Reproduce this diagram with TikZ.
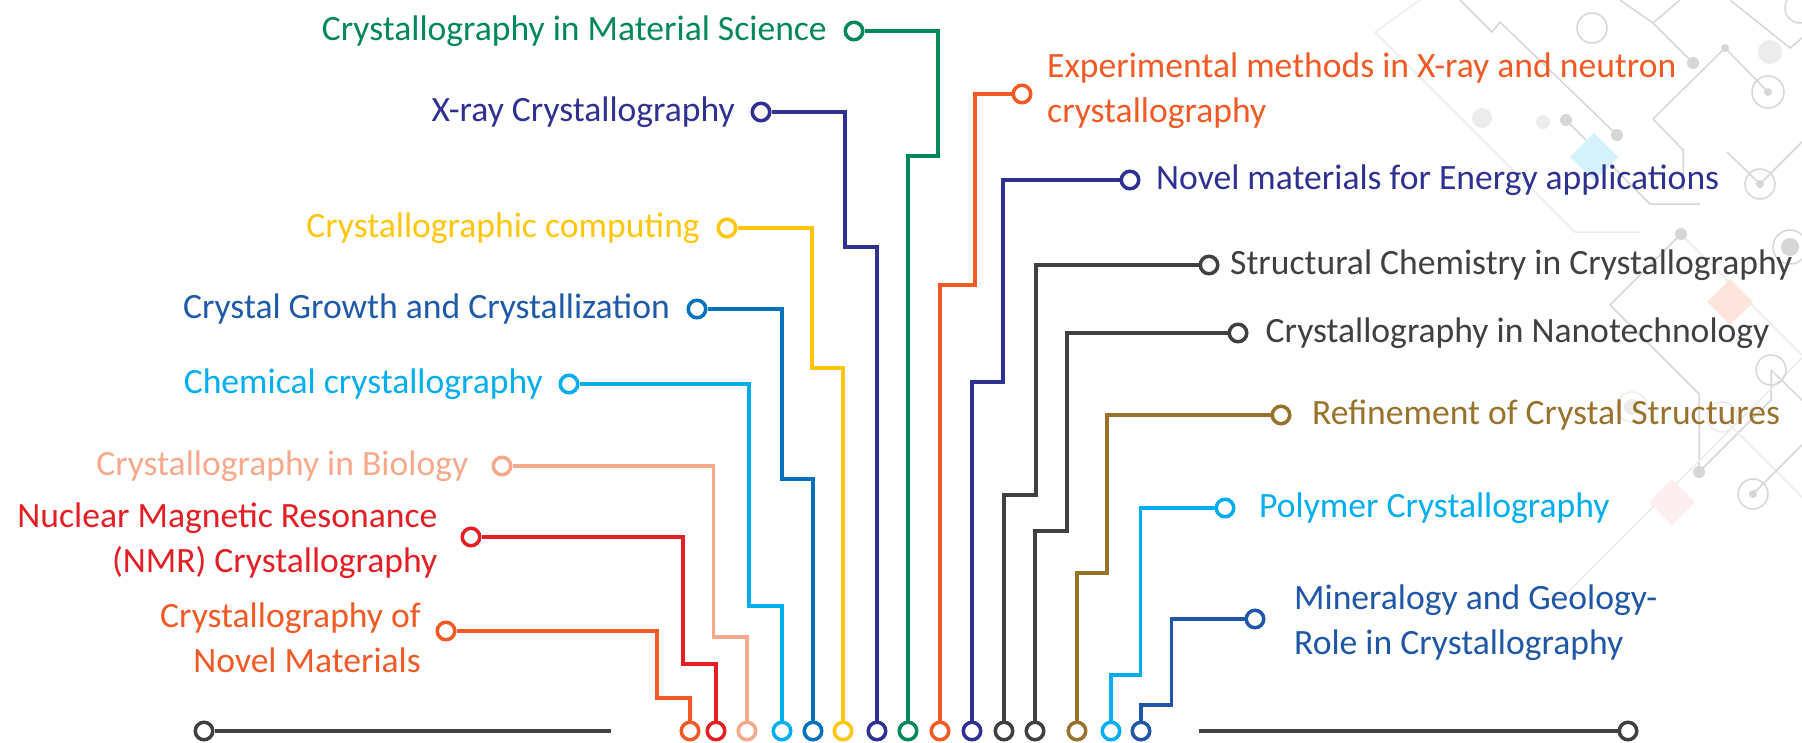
\documentclass[tikz,border=0pt]{standalone}
\usepackage{fontspec}
\setmainfont{Carlito}
\usetikzlibrary{positioning}

\definecolor{cgreen}{HTML}{00875A}
\definecolor{cindigo}{HTML}{2E3192}
\definecolor{cyellow}{HTML}{FFC60B}
\definecolor{cblue}{HTML}{0072BC}
\definecolor{cbluetext}{HTML}{1E5AA8}
\definecolor{ccyan}{HTML}{00AEEF}
\definecolor{cpeach}{HTML}{F7A98B}
\definecolor{cred}{HTML}{E31E24}
\definecolor{corange}{HTML}{F15A24}
\definecolor{cgray}{HTML}{404040}
\definecolor{cbrown}{HTML}{98712A}
\definecolor{cmineral}{HTML}{1F56A5}
\definecolor{decogray}{HTML}{D6D6D6}
\definecolor{decolight}{HTML}{ECECEC}

\begin{document}
\begin{tikzpicture}[x=1pt,y=-1pt,
	wire/.style={line width=3.5pt},
	ring/.style={circle,draw,line width=3.5pt,fill=white,inner sep=0pt,minimum size=17.5pt},
	lbl/.style={inner sep=0pt,font=\fontsize{35.6}{45}\selectfont},
	deco/.style={line width=1.5pt,draw=decogray},
	blob/.style={fill=decogray,draw=none}]
	\useasboundingbox (0,0) rectangle (1802,742);

	% Faint circuit pattern in the upper right
	\begin{scope}[deco]
		\draw[decolight] (1375,32) -- (1575,232) -- (1640,232);
		\draw[decolight] (1420,0) -- (1375,32);
		\draw (1460,0) -- (1492,32) -- (1500,22) -- (1617,135);
		\draw (1566,120) -- (1650,204) -- (1700,204);
		\draw (1620,0) -- (1653,23) -- (1693,63);
		\draw (1653,23) -- (1680,0);
		\draw (1653,119) -- (1725,48) -- (1768,92);
		\draw (1653,119) -- (1683,150) -- (1683,190);
		\draw (1727,152) -- (1760,184) -- (1802,142);
		\draw (1730,0) -- (1790,48) -- (1802,38);
		\draw (1681,234) -- (1610,305) -- (1699,394) -- (1699,472);
		\draw[decolight] (1681,234) -- (1802,355);
		\draw (1699,472) -- (1771,400) -- (1771,370);
		\draw (1771,370) -- (1802,400);
		\draw[decolight] (1722,417) -- (1802,497);
		\draw[decolight] (1560,600) -- (1802,358);
		\draw (1753,494) -- (1802,445);
		\draw (1592,28) circle[radius=15];
		\draw (1768,92) circle[radius=16];
		\draw (1760,184) circle[radius=15];
		\draw (1790,247) circle[radius=17];
		\draw (1800,8) circle[radius=15];
		\draw (1771,370) circle[radius=15];
		\draw[decolight] (1632,407) circle[radius=15];
		\draw[decolight] (1722,417) circle[radius=15];
		\draw (1753,494) circle[radius=15];
		\fill[blob] (1617,135) circle[radius=6];
		\fill[blob] (1566,120) circle[radius=6];
		\fill[blob] (1693,63) circle[radius=6];
		\fill[blob] (1725,48) circle[radius=4];
		\fill[blob] (1768,92) circle[radius=4];
		\fill[blob] (1760,184) circle[radius=4];
		\fill[blob] (1790,247) circle[radius=9];
		\fill[blob] (1681,234) circle[radius=6];
		\fill[blob] (1699,472) circle[radius=6];
		\fill[blob] (1753,494) circle[radius=4];
		\fill[decolight] (1482,118) circle[radius=10];
		\fill[decolight] (1543,122) circle[radius=7];
		\fill[decolight] (1770,52) circle[radius=12];
		\fill[decolight] (1632,407) circle[radius=8];
		% The tinted diamonds
		\fill[ccyan!17] (1594,133) -- (1618,157) -- (1594,181) -- (1570,157) -- cycle;
		\fill[corange!16] (1730,279) -- (1753,302) -- (1730,325) -- (1707,302) -- cycle;
		\fill[cred!7] (1672,479) -- (1695,502) -- (1672,525) -- (1649,502) -- cycle;
	\end{scope}

	% Rings on the base line
	\node[ring,draw=corange]  (bNovMat) at (690,731)  {};
	\node[ring,draw=cred]     (bNMR)    at (716,731)  {};
	\node[ring,draw=cpeach]   (bBio)    at (747,731)  {};
	\node[ring,draw=ccyan]    (bChem)   at (782,731)  {};
	\node[ring,draw=cblue]    (bGrowth) at (813,731)  {};
	\node[ring,draw=cyellow]  (bComp)   at (843,731)  {};
	\node[ring,draw=cindigo]  (bXray)   at (877,731)  {};
	\node[ring,draw=cgreen]   (bMatSci) at (908,731)  {};
	\node[ring,draw=corange]  (bExper)  at (940,731)  {};
	\node[ring,draw=cindigo]  (bEnergy) at (972,731)  {};
	\node[ring,draw=cgray]    (bStruct) at (1004,731) {};
	\node[ring,draw=cgray]    (bNano)   at (1035,731) {};
	\node[ring,draw=cbrown]   (bRefine) at (1077,731) {};
	\node[ring,draw=ccyan]    (bPoly)   at (1111,731) {};
	\node[ring,draw=cmineral] (bMineral) at (1141,731) {};

	% Grey base lines
	\node[ring,draw=cgray] (bLeft) at (204,731) {};
	\coordinate (eLeft) at (611,731);
	\draw[wire,cgray] (bLeft) -- (eLeft);
	\coordinate (eRight) at (1199,731);
	\node[ring,draw=cgray] (bRight) at (1628,731) {};
	\draw[wire,cgray] (eRight) -- (bRight);

	% Topics on the left
	\node[ring,draw=cgreen] (cMatSci) at (854,31) {};
	\node[lbl,text=cgreen,left=16.5pt of cMatSci] (tMatSci) {Crystallography in Material Science};
	\node[ring,draw=cindigo] (cXray) at (761,112) {};
	\node[lbl,text=cindigo,left=15.5pt of cXray] (tXray) {X-ray Crystallography};
	\node[ring,draw=cyellow] (cComp) at (727,228) {};
	\node[lbl,text=cyellow,left=16.5pt of cComp] (tComp) {Crystallographic computing};
	\node[ring,draw=cblue] (cGrowth) at (697,309) {};
	\node[lbl,text=cbluetext,left=16.5pt of cGrowth] (tGrowth) {Crystal Growth and Crystallization};
	\node[ring,draw=ccyan] (cChem) at (569,384) {};
	\node[lbl,text=ccyan,left=15.5pt of cChem] (tChem) {Chemical crystallography};
	\node[ring,draw=cpeach] (cBio) at (502,466) {};
	\node[lbl,text=cpeach,left=23pt of cBio] (tBio) {Crystallography in Biology};
	\node[ring,draw=cred] (cNMR) at (471,537) {};
	\node[lbl,text=cred,align=right,left=23pt of cNMR,yshift=-4pt] (tNMR) {Nuclear Magnetic Resonance\\(NMR) Crystallography};
	\node[ring,draw=corange] (cNovMat) at (446,631) {};
	\node[lbl,text=corange,align=right,left=14.5pt of cNovMat,yshift=-7pt] (tNovMat) {Crystallography of\\Novel Materials};

	% Topics on the right
	\node[ring,draw=corange] (cExper) at (1022,94) {};
	\node[lbl,text=corange,align=left,right=14.5pt of cExper,yshift=3pt] (tExper) {Experimental methods in X-ray and neutron\\crystallography};
	\node[ring,draw=cindigo] (cEnergy) at (1130,180) {};
	\node[lbl,text=cindigo,right=15.5pt of cEnergy] (tEnergy) {Novel materials for Energy applications};
	\node[ring,draw=cgray] (cStruct) at (1209,265) {};
	\node[lbl,text=cgray,right=10.5pt of cStruct] (tStruct) {Structural Chemistry in Crystallography};
	\node[ring,draw=cgray] (cNano) at (1238,333) {};
	\node[lbl,text=cgray,right=17pt of cNano] (tNano) {Crystallography in Nanotechnology};
	\node[ring,draw=cbrown] (cRefine) at (1281,415) {};
	\node[lbl,text=cbrown,right=20.5pt of cRefine] (tRefine) {Refinement of Crystal Structures};
	\node[ring,draw=ccyan] (cPoly) at (1225,508) {};
	\node[lbl,text=ccyan,right=23.5pt of cPoly] (tPoly) {Polymer Crystallography};
	\node[ring,draw=cmineral] (cMineral) at (1255,619) {};
	\node[lbl,text=cmineral,align=left,right=28.5pt of cMineral,yshift=-4pt] (tMineral) {Mineralogy and Geology-\\Role in Crystallography};

	% Stepped wires from the topics down to the base line
	\draw[wire,corange]  (cNovMat)  -| (657,698)    -| (bNovMat);
	\draw[wire,cred]     (cNMR)     -| (683,664)    -| (bNMR);
	\draw[wire,cpeach]   (cBio)     -| (713.5,637)  -| (bBio);
	\draw[wire,ccyan]    (cChem)    -| (749,606)    -| (bChem);
	\draw[wire,cblue]    (cGrowth)  -| (782,479)    -| (bGrowth);
	\draw[wire,cyellow]  (cComp)    -| (812,368)    -| (bComp);
	\draw[wire,cindigo]  (cXray)    -| (845,247)    -| (bXray);
	\draw[wire,cgreen]   (cMatSci)  -| (938,156)    -| (bMatSci);
	\draw[wire,corange]  (cExper)   -| (975,285)    -| (bExper);
	\draw[wire,cindigo]  (cEnergy)  -| (1003,382)   -| (bEnergy);
	\draw[wire,cgray]    (cStruct)  -| (1036,495)   -| (bStruct);
	\draw[wire,cgray]    (cNano)    -| (1067,531)   -| (bNano);
	\draw[wire,cbrown]   (cRefine)  -| (1107,573)   -| (bRefine);
	\draw[wire,ccyan]    (cPoly)    -| (1140.5,675) -| (bPoly);
	\draw[wire,cmineral] (cMineral) -| (1171.5,705) -| (bMineral);
\end{tikzpicture}
\end{document}
